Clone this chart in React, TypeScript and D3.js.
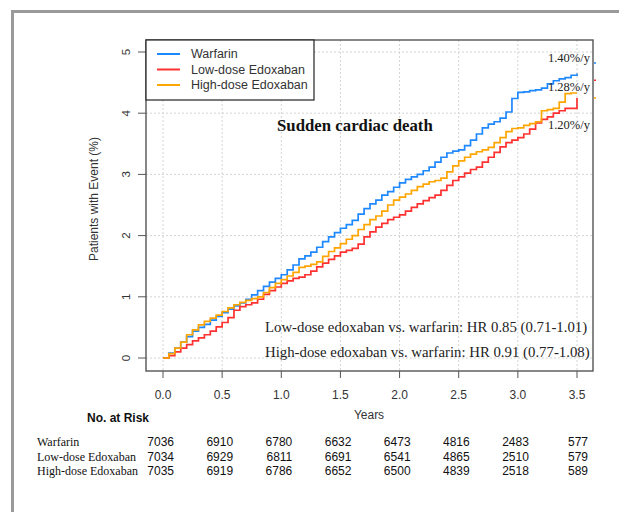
import React from 'react';
import * as d3 from 'd3';

// cumulative incidence (%) every 0.05 years, 0 to 3.5
const warfarin = [
  0, 0.08, 0.16, 0.26, 0.35, 0.44, 0.5, 0.55, 0.62, 0.68, 0.74, 0.8, 0.85, 0.9, 0.96, 1.03, 1.1, 1.17, 1.24, 1.3,
  1.36, 1.44, 1.52, 1.62, 1.67, 1.73, 1.81, 1.9, 1.98, 2.05, 2.12, 2.18, 2.25, 2.35, 2.44, 2.52, 2.58, 2.66, 2.72, 2.79,
  2.86, 2.92, 2.96, 3.0, 3.06, 3.12, 3.2, 3.28, 3.35, 3.38, 3.4, 3.47, 3.56, 3.66, 3.76, 3.82, 3.86, 3.92, 4.02, 4.24,
  4.34, 4.35, 4.37, 4.38, 4.41, 4.48, 4.53, 4.56, 4.58, 4.62, 4.65,
];
const lowDose = [
  0, 0.04, 0.1, 0.16, 0.22, 0.28, 0.33, 0.38, 0.44, 0.51, 0.58, 0.66, 0.78, 0.84, 0.87, 0.9, 0.96, 1.04, 1.1, 1.16,
  1.22, 1.26, 1.3, 1.32, 1.36, 1.42, 1.49, 1.55, 1.61, 1.67, 1.73, 1.76, 1.79, 1.86, 1.98, 2.06, 2.14, 2.2, 2.26, 2.3,
  2.34, 2.4, 2.46, 2.52, 2.57, 2.62, 2.66, 2.74, 2.82, 2.9, 2.96, 3.02, 3.08, 3.12, 3.2, 3.28, 3.36, 3.45, 3.52, 3.56,
  3.6, 3.66, 3.74, 3.84, 3.9, 3.94, 4.0, 4.04, 4.08, 4.08, 4.25,
];
const highDose = [
  0, 0.07, 0.16, 0.26, 0.38, 0.46, 0.54, 0.6, 0.65, 0.7, 0.76, 0.82, 0.87, 0.91, 0.94, 0.97, 1.0, 1.07, 1.15, 1.22,
  1.28, 1.34, 1.4, 1.48, 1.5, 1.53, 1.57, 1.66, 1.74, 1.8, 1.87, 1.94, 2.0, 2.1, 2.18, 2.26, 2.32, 2.4, 2.5, 2.58,
  2.63, 2.68, 2.74, 2.8, 2.84, 2.88, 2.9, 2.94, 3.04, 3.14, 3.22, 3.28, 3.33, 3.37, 3.4, 3.44, 3.52, 3.6, 3.7, 3.75,
  3.76, 3.8, 3.83, 3.86, 4.04, 4.06, 4.08, 4.18, 4.32, 4.33, 4.33,
];

const seriesNames = ['Warfarin', 'Low-dose Edoxaban', 'High-dose Edoxaban'];
const seriesColors = ['#1E88FF', '#FF3030', '#FFA500'];
const rateLabels = ['1.40%/y', '1.28%/y', '1.20%/y'];
const rateAt = [4.9, 4.43, 3.8];
const edgeMarks = [4.82, 4.54, 4.25];

const xTicks = [0, 0.5, 1, 1.5, 2, 2.5, 3, 3.5];
const yTicks = [0, 1, 2, 3, 4, 5];

const riskNames = ['Warfarin', 'Low-dose Edoxaban', 'High-dose Edoxaban'];
const riskWarfarin = [7036, 6910, 6780, 6632, 6473, 4816, 2483, 577];
const riskLow = [7034, 6929, 6811, 6691, 6541, 4865, 2510, 579];
const riskHigh = [7035, 6919, 6786, 6652, 6500, 4839, 2518, 589];

const hrLines = [
  'Low-dose edoxaban vs. warfarin: HR 0.85 (0.71-1.01)',
  'High-dose edoxaban vs. warfarin: HR 0.91 (0.77-1.08)',
];

const SANS = '"Liberation Sans", Arial, sans-serif';
const SERIF = '"Liberation Serif", "Times New Roman", serif';

export default function App() {
  const box = { left: 146, right: 593, top: 40, bottom: 371 };
  const x = d3.scaleLinear().domain([0, 3.5]).range([163, 577]);
  const y = d3.scaleLinear().domain([0, 5]).range([358, 52]);

  const times = d3.range(0, 3.5001, 0.05);
  const line = d3
    .line<number>()
    .x((_, i) => x(times[i]))
    .y((d) => y(d))
    .curve(d3.curveStepAfter);

  const series = [warfarin, lowDose, highDose];
  const risks = [riskWarfarin, riskLow, riskHigh];

  return (
    <svg width={619} height={512} style={{ position: 'absolute', left: 0, top: 0, background: '#fff' }}>
      {/* page frame */}
      <rect x={11} y={10} width={608} height={3} fill="#9a9a9a" />
      <rect x={11} y={10} width={3} height={502} fill="#9a9a9a" />

      {/* grid */}
      <g stroke="#d4d4d4" strokeWidth={1} strokeDasharray="2,2">
        {xTicks.map((t) => (
          <line key={'gx' + t} x1={x(t)} x2={x(t)} y1={box.top} y2={box.bottom} />
        ))}
        {yTicks.map((t) => (
          <line key={'gy' + t} x1={box.left} x2={box.right} y1={y(t)} y2={y(t)} />
        ))}
      </g>

      {/* curves */}
      {series.map((s, i) => (
        <path key={seriesNames[i]} d={line(s) || ''} fill="none" stroke={seriesColors[i]} strokeWidth={1.7} />
      ))}

      {/* box */}
      <rect
        x={box.left}
        y={box.top}
        width={box.right - box.left}
        height={box.bottom - box.top}
        fill="none"
        stroke="#555"
        strokeWidth={1.4}
      />
      {edgeMarks.map((v, i) => (
        <line key={'em' + i} x1={box.right + 1} x2={box.right + 3} y1={y(v)} y2={y(v)} stroke={seriesColors[i]} strokeWidth={1.5} />
      ))}

      {/* y axis */}
      {yTicks.map((t) => (
        <g key={'yt' + t}>
          <line x1={box.left - 8} x2={box.left} y1={y(t)} y2={y(t)} stroke="#555" strokeWidth={1} />
          <text
            transform={`translate(${box.left - 20},${y(t)}) rotate(-90)`}
            textAnchor="middle"
            dominantBaseline="central"
            fontFamily={SANS}
            fontSize={11.5}
            fill="#333"
          >
            {t}
          </text>
        </g>
      ))}
      <text
        transform={`translate(94,199) rotate(-90)`}
        textAnchor="middle"
        dominantBaseline="central"
        fontFamily={SANS}
        fontSize={12}
        fill="#333"
      >
        Patients with Event (%)
      </text>

      {/* x axis */}
      {xTicks.map((t) => (
        <g key={'xt' + t}>
          <line x1={x(t)} x2={x(t)} y1={box.bottom} y2={box.bottom + 7} stroke="#555" strokeWidth={1} />
          <text x={x(t)} y={399} textAnchor="middle" fontFamily={SANS} fontSize={12} fill="#333">
            {d3.format('.1f')(t)}
          </text>
        </g>
      ))}
      <text x={369} y={419} textAnchor="middle" fontFamily={SANS} fontSize={12} fill="#333">
        Years
      </text>

      {/* legend */}
      <rect x={box.left} y={box.top} width={168} height={60} fill="#fff" stroke="#222" strokeWidth={1.2} />
      {seriesNames.map((n, i) => (
        <g key={'lg' + n}>
          <line x1={157} x2={180} y1={54 + i * 15.5} y2={54 + i * 15.5} stroke={seriesColors[i]} strokeWidth={2} />
          <text x={191} y={54 + i * 15.5} dominantBaseline="central" fontFamily={SANS} fontSize={12.5} fill="#333">
            {n}
          </text>
        </g>
      ))}

      {/* title and annotations */}
      <text x={277} y={131} fontFamily={SERIF} fontWeight="bold" fontSize={16.8} fill="#111">
        Sudden cardiac death
      </text>
      {rateLabels.map((r, i) => (
        <text key={r} x={590} y={y(rateAt[i])} textAnchor="end" dominantBaseline="central" fontFamily={SERIF} fontSize={12.5} fill="#222">
          {r}
        </text>
      ))}
      {hrLines.map((h, i) => (
        <text key={h} x={265} y={332 + i * 25} fontFamily={SERIF} fontSize={14.8} fill="#222">
          {h}
        </text>
      ))}

      {/* number at risk */}
      <text x={87} y={422} fontFamily={SANS} fontWeight="bold" fontSize={12} fill="#111">
        No. at Risk
      </text>
      {riskNames.map((n, r) => (
        <g key={'rk' + n}>
          <text x={37} y={446 + r * 14.5} fontFamily={SERIF} fontSize={12} fill="#111">
            {n}
          </text>
          {risks[r].map((v, c) => (
            <text key={c} x={x(xTicks[c]) + 11} y={446 + r * 14.5} textAnchor="end" fontFamily={SANS} fontSize={12} fill="#111">
              {v}
            </text>
          ))}
        </g>
      ))}
    </svg>
  );
}
